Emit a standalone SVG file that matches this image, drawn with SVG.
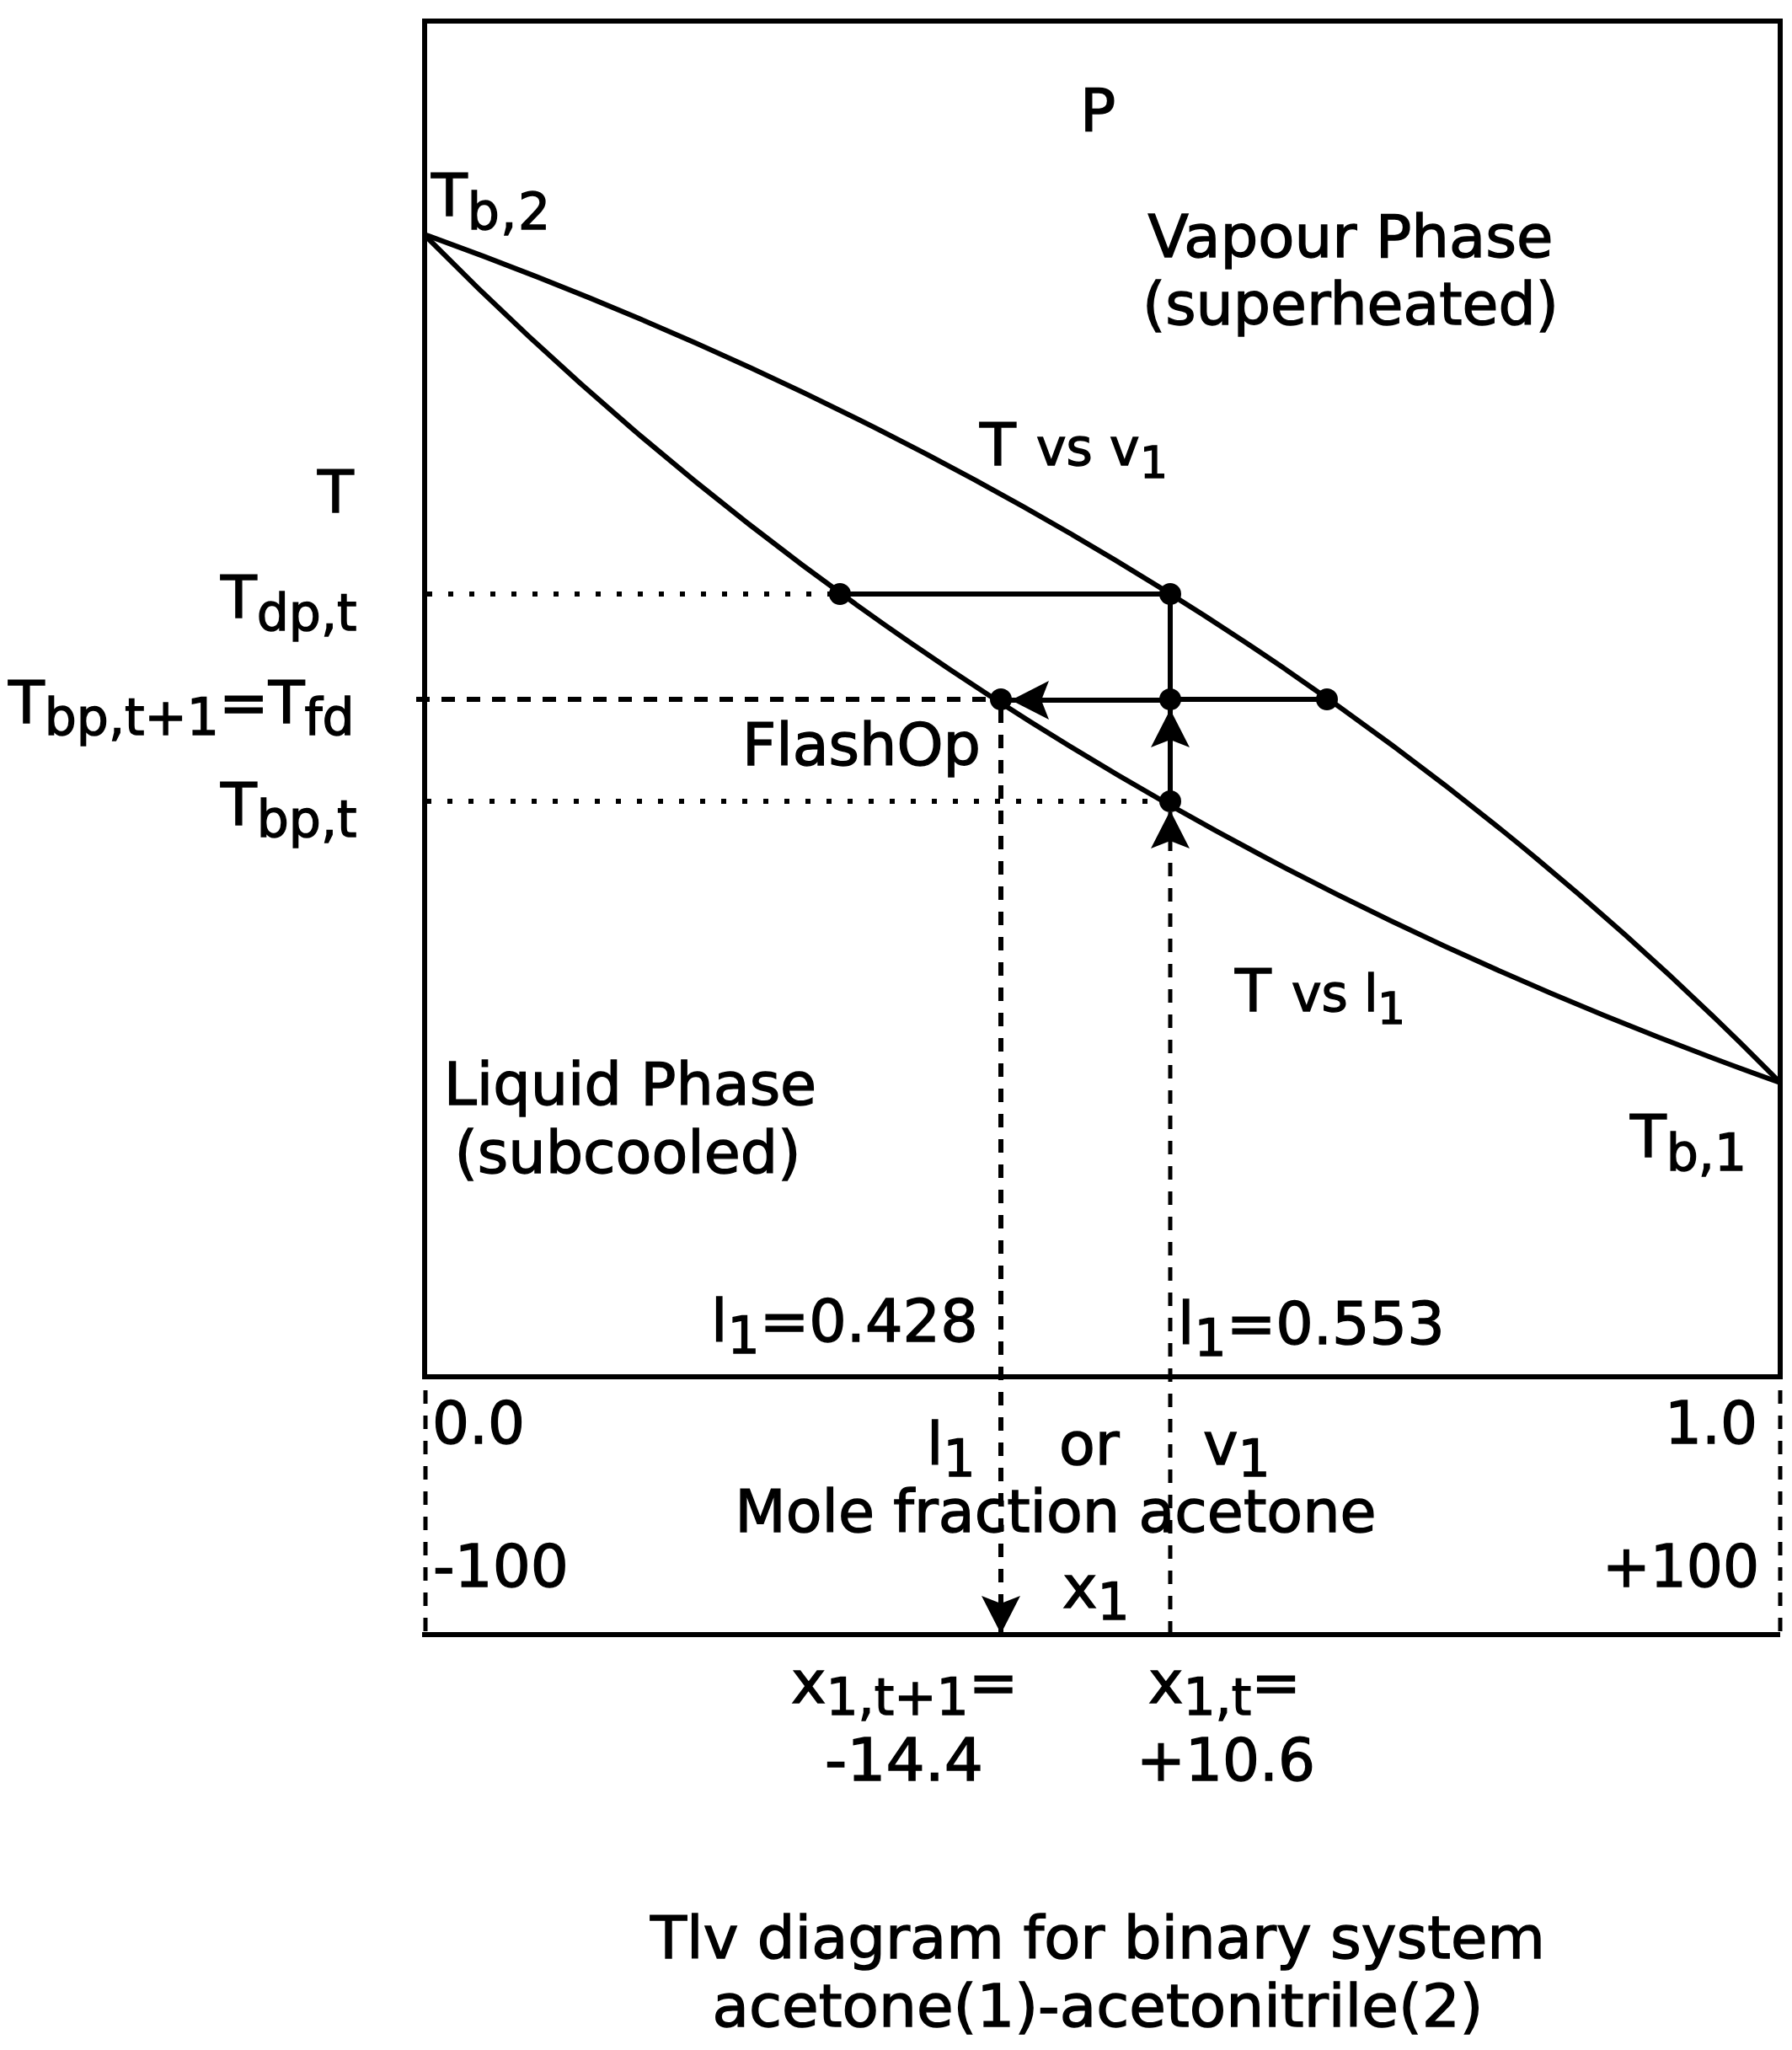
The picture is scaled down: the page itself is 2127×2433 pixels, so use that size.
<svg xmlns="http://www.w3.org/2000/svg" width="2127" height="2433" viewBox="0 0 2127 2433">
<style>
text{font-family:"DejaVu Sans","Liberation Sans",sans-serif;font-size:70px;fill:#000;stroke:#000;stroke-width:1.4}
.s{font-size:60px}
.n{font-size:52px}
.m{text-anchor:middle}
.l{fill:none;stroke:#000;stroke-width:6}
.dot{fill:none;stroke:#000;stroke-width:6;stroke-dasharray:6 19}
.dash{fill:none;stroke:#000;stroke-width:6;stroke-dasharray:16 14}
.thin{stroke-width:5}
</style>
<defs>
<marker id="ah" markerUnits="userSpaceOnUse" markerWidth="50" markerHeight="50" refX="45" refY="23" orient="auto"><path d="M45 23L0 0L9 23L0 46Z" fill="#000"/></marker>
<circle id="d" r="13" fill="#000"/>
</defs>
<rect width="2127" height="2433" fill="#fff"/>
<g id="connectors">
<path class="l" d="M504 25H2113V1634H504Z"/>
<path class="l" d="M503 278Q1465 625 2113 1285"/>
<path class="l" d="M503 278Q1159 945 2113 1285"/>
<path class="dot" d="M507 705H985"/>
<path class="dot" d="M506 951H1375"/>
<path class="dash" d="M494 830H1176"/>
<path class="l" d="M996 705H1389V830"/>
<path class="l" d="M1575 830H1389"/>
<path class="l" d="M1389 831H1200" marker-end="url(#ah)"/>
<path class="l" d="M1389 951V842" marker-end="url(#ah)"/>
<path class="dash thin" d="M1389 1940V962" marker-end="url(#ah)"/>
<path class="dash" d="M1188 842V1939" marker-end="url(#ah)"/>
<path class="dash thin" d="M505 1650V1940"/>
<path class="dash thin" d="M2113 1650V1940"/>
<path class="l" d="M501 1940H2113"/>
</g>
<g id="points">
<use href="#d" x="997" y="705"/><use href="#d" x="1389" y="705"/>
<use href="#d" x="1188" y="830"/><use href="#d" x="1389" y="830"/><use href="#d" x="1575" y="830"/>
<use href="#d" x="1389" y="951"/>
</g>
<g id="labels">
<text x="1282" y="155">P</text>
<text x="512" y="256">T<tspan class="s" dy="16" letter-spacing="1.5">b,2</tspan></text>
<text class="m" x="1603" y="305" textLength="481" lengthAdjust="spacingAndGlyphs">Vapour Phase</text>
<text class="m" x="1603" y="385" textLength="494" lengthAdjust="spacingAndGlyphs">(superheated)</text>
<text x="1163" y="552">T<tspan class="s" x="1230">vs</tspan><tspan class="s" x="1317">v</tspan><tspan class="n" x="1353" dy="15">1</tspan></text>
<text x="377" y="608">T</text>
<text x="262" y="733">T<tspan class="s" dy="15">dp,t</tspan></text>
<text x="10" y="858">T<tspan class="s" dy="14">bp,t+1</tspan><tspan dy="-14">=T</tspan><tspan class="s" dy="14">fd</tspan></text>
<text x="262" y="979">T<tspan class="s" dy="14">bp,t</tspan></text>
<text x="881" y="908">FlashOp</text>
<text x="1466" y="1200">T<tspan class="s" x="1533">vs</tspan><tspan class="s" x="1619">l</tspan><tspan class="n" x="1635" dy="15">1</tspan></text>
<text class="m" x="748" y="1311">Liquid Phase</text>
<text class="m" x="745" y="1392" textLength="411" lengthAdjust="spacingAndGlyphs">(subcooled)</text>
<text x="1935" y="1373">T<tspan class="s" dy="16">b,1</tspan></text>
<text x="844" y="1592">l<tspan class="s" dy="14">1</tspan><tspan dy="-14">=0.428</tspan></text>
<text x="1398" y="1595">l<tspan class="s" dy="14">1</tspan><tspan dy="-14">=0.553</tspan></text>
<text x="513" y="1713" textLength="110" lengthAdjust="spacingAndGlyphs">0.0</text>
<text x="1976" y="1713" textLength="110" lengthAdjust="spacingAndGlyphs">1.0</text>
<text x="1100" y="1738">l<tspan class="s" dy="14">1</tspan></text>
<text x="1257" y="1738">or</text>
<text x="1428" y="1738">v<tspan class="s" dy="14">1</tspan></text>
<text class="m" x="1253" y="1818">Mole fraction acetone</text>
<text x="514" y="1883" textLength="161" lengthAdjust="spacingAndGlyphs">-100</text>
<text x="1902" y="1883" textLength="186" lengthAdjust="spacingAndGlyphs">+100</text>
<text x="1261" y="1908">x<tspan class="s" dy="14">1</tspan></text>
<text x="939" y="2021">x<tspan class="s" dy="14">1,t+1</tspan><tspan dy="-14">=</tspan></text>
<text class="m" x="1073" y="2113" textLength="188" lengthAdjust="spacingAndGlyphs">-14.4</text>
<text x="1363" y="2021">x<tspan class="s" dy="14">1,t</tspan><tspan dy="-14">=</tspan></text>
<text class="m" x="1455" y="2113" textLength="212" lengthAdjust="spacingAndGlyphs">+10.6</text>
<text class="m" x="1303" y="2324" textLength="1062" lengthAdjust="spacingAndGlyphs">Tlv diagram for binary system</text>
<text class="m" x="1303" y="2405" textLength="915" lengthAdjust="spacingAndGlyphs">acetone(1)-acetonitrile(2)</text>
</g>
</svg>
